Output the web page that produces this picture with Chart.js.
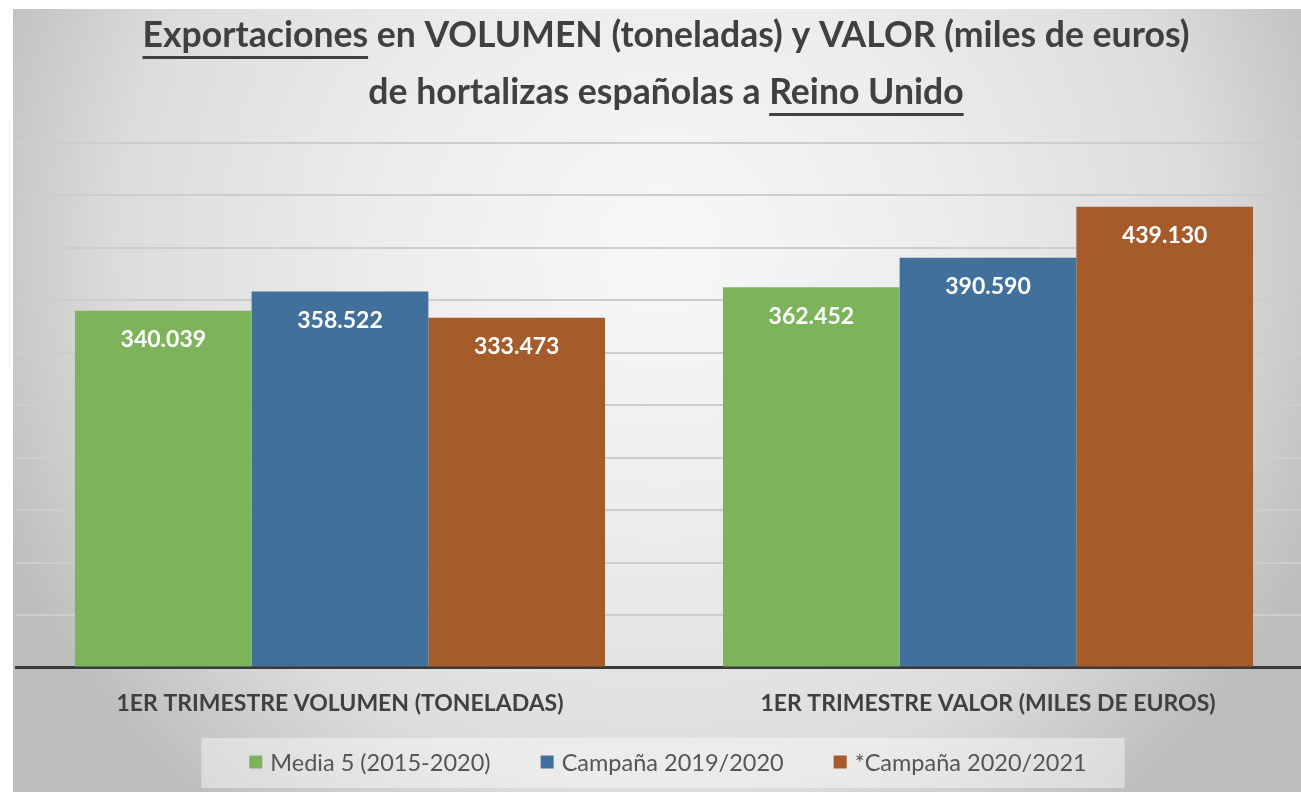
<!DOCTYPE html>
<html>
<head>
<meta charset="utf-8">
<script src="https://cdn.jsdelivr.net/npm/chart.js@4.4.1/dist/chart.umd.min.js"></script>
<style>
  html, body { margin: 0; padding: 0; background: #fff; overflow: hidden; }
  #wrap { position: absolute; left: 0; top: 0; width: 1312px; height: 792px; }
</style>
</head>
<body>
<div id="wrap"><canvas id="chart"></canvas></div>
<script>
// data
const categories = ['1ER TRIMESTRE VOLUMEN (TONELADAS)', '1ER TRIMESTRE VALOR (MILES DE EUROS)']
const seriesNames = ['Media 5 (2015-2020)', 'Campaña 2019/2020', '*Campaña 2020/2021']
const media5 = [340039, 362452]
const campana1920 = [358522, 390590]
const campana2021 = [333473, 439130]
const seriesColors = ['#7db45b', '#41709c', '#a65b2b']
const yTicks = { min: 0, max: 500000, step: 50000 }

const TEXT = '#404040'

function fmt(v) {
    return String(v).replace(/\B(?=(\d{3})+(?!\d))/g, '.')
}

// grey gradient plate with the thin white margin of the screenshot
const backgroundPlugin = {
    id: 'plate',
    beforeDraw(chart) {
        const { ctx, width, height } = chart
        ctx.save()
        ctx.fillStyle = '#ffffff'
        ctx.fillRect(0, 0, width, height)
        const g = ctx.createRadialGradient(660, 250, 0, 660, 250, 720)
        g.addColorStop(0, '#f8f8f8')
        g.addColorStop(0.4, '#ececec')
        g.addColorStop(0.75, '#dcdcdc')
        g.addColorStop(1, '#bdbdbd')
        ctx.fillStyle = g
        ctx.fillRect(13, 9, width - 13, height - 9)
        ctx.restore()
    }
}

// two line title, some words underlined
const titleLines = [
    { baseline: 47, parts: [{ t: 'Exportaciones', u: true }, { t: ' en VOLUMEN (toneladas) y VALOR (miles de euros)' }] },
    { baseline: 104, parts: [{ t: 'de hortalizas españolas a ' }, { t: 'Reino Unido', u: true }] },
]
const titlePlugin = {
    id: 'bigTitle',
    afterDraw(chart) {
        const ctx = chart.ctx
        ctx.save()
        ctx.font = 'bold 36px Lato'
        ctx.fillStyle = TEXT
        ctx.textBaseline = 'alphabetic'
        ctx.textAlign = 'left'
        const w0 = titleLines[0].parts.reduce((s, p) => s + ctx.measureText(p.t).width, 0)
        const sx = 1047 / w0
        titleLines.forEach(line => {
            const w = line.parts.reduce((s, p) => s + ctx.measureText(p.t).width, 0)
            let x = 666 - (w * sx) / 2
            line.parts.forEach(p => {
                const pw = ctx.measureText(p.t).width
                ctx.save()
                ctx.translate(x, line.baseline)
                ctx.scale(sx, 1)
                ctx.fillText(p.t, 0, 0)
                ctx.restore()
                if (p.u) {
                    const lead = p.t.startsWith(' ') ? ctx.measureText(' ').width * sx : 0
                    ctx.fillRect(x + lead, line.baseline + 9, pw * sx - lead, 3)
                }
                x += pw * sx
            })
        })
        ctx.restore()
    }
}

// white value labels inside the top of every bar
const valueLabelPlugin = {
    id: 'valueLabels',
    afterDatasetsDraw(chart) {
        const ctx = chart.ctx
        ctx.save()
        ctx.font = 'bold 23px Lato'
        ctx.fillStyle = '#ffffff'
        ctx.textAlign = 'center'
        ctx.textBaseline = 'middle'
        chart.data.datasets.forEach((ds, i) => {
            chart.getDatasetMeta(i).data.forEach((bar, j) => {
                ctx.fillText(fmt(ds.data[j]), bar.x, bar.y + 29)
            })
        })
        ctx.restore()
    }
}

// legend in a light box under the axis
const legendPlugin = {
    id: 'boxLegend',
    afterDraw(chart) {
        const ctx = chart.ctx
        const cy = 762, box = 13, gapText = 8, gapItem = 50
        ctx.save()
        ctx.font = '23.5px Lato'
        const widths = seriesNames.map(n => ctx.measureText(n).width)
        const total = widths.reduce((s, w) => s + box + gapText + w, 0) + gapItem * (seriesNames.length - 1)
        let x = 668 - total / 2
        ctx.fillStyle = 'rgba(255,255,255,0.42)'
        ctx.fillRect(x - 48, 738, total + 48 + 38, 50)
        ctx.textBaseline = 'middle'
        ctx.textAlign = 'left'
        seriesNames.forEach((n, i) => {
            ctx.fillStyle = seriesColors[i]
            ctx.fillRect(x, cy - box / 2, box, box)
            ctx.fillStyle = '#555555'
            ctx.fillText(n, x + box + gapText, cy + 1)
            x += box + gapText + widths[i] + gapItem
        })
        ctx.restore()
    }
}

const seriesValues = [media5, campana1920, campana2021]

new Chart(document.getElementById('chart'), {
    type: 'bar',
    data: {
        labels: categories,
        datasets: seriesNames.map((name, i) => ({
            label: name,
            data: seriesValues[i],
            backgroundColor: seriesColors[i],
            borderWidth: 0,
            categoryPercentage: 0.818,
            barPercentage: 1.0,
        })),
    },
    options: {
        responsive: true,
        maintainAspectRatio: false,
        animation: false,
        layout: { padding: { top: 143, left: 16, right: 0, bottom: 53 } },
        plugins: {
            legend: { display: false },
            title: { display: false },
            tooltip: { enabled: false },
        },
        scales: {
            x: {
                grid: { display: false, drawTicks: false },
                border: { display: true, color: '#3a3a3a', width: 3 },
                ticks: {
                    color: TEXT,
                    font: { family: 'Lato', weight: 'bold', size: 23 },
                    padding: 22,
                    maxRotation: 0,
                    autoSkip: false,
                },
            },
            y: {
                min: yTicks.min,
                max: yTicks.max,
                ticks: { display: false, stepSize: yTicks.step },
                grid: { color: '#cdcdcd', lineWidth: 2, drawTicks: false },
                border: { display: false },
            },
        },
    },
    plugins: [backgroundPlugin, titlePlugin, valueLabelPlugin, legendPlugin],
})
</script>
</body>
</html>
